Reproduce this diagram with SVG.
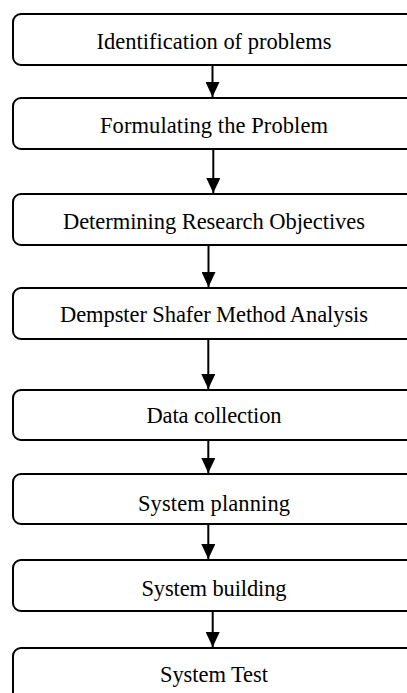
<svg xmlns="http://www.w3.org/2000/svg" width="407" height="693" viewBox="0 0 407 693">
<style>
.box{fill:#fff;stroke:#000;stroke-width:2}
.lbl{font-family:"Liberation Serif","Times New Roman",serif;font-size:22.5px;fill:#000;text-anchor:middle}
.con{stroke:#000;stroke-width:2;fill:none;marker-end:url(#ah)}
</style>
<defs>
<marker id="ah" viewBox="0 0 15 14" refX="15" refY="7" markerWidth="15" markerHeight="14" markerUnits="userSpaceOnUse" orient="auto">
<path d="M0,0 L15,7 L0,14 z" fill="#000"/>
</marker>
</defs>
<rect width="407" height="693" fill="#fff"/>
<g id="connectors">
<line class="con" x1="212.5" y1="65" x2="212.5" y2="97"/>
<line class="con" x1="213.3" y1="149" x2="213.3" y2="193"/>
<line class="con" x1="208.5" y1="245" x2="208.5" y2="287"/>
<line class="con" x1="208.3" y1="339" x2="208.3" y2="389"/>
<line class="con" x1="208.3" y1="440" x2="208.3" y2="473"/>
<line class="con" x1="208.3" y1="524" x2="208.3" y2="559"/>
<line class="con" x1="212.7" y1="611" x2="212.7" y2="647"/>
</g>
<g id="n1"><rect class="box" x="13" y="14" width="403" height="51" rx="8"/><text class="lbl" x="214" y="49" textLength="235">Identification of problems</text></g>
<g id="n2"><rect class="box" x="13" y="98" width="403" height="51" rx="8"/><text class="lbl" x="214" y="133" textLength="228">Formulating the Problem</text></g>
<g id="n3"><rect class="box" x="13" y="194" width="403" height="51" rx="8"/><text class="lbl" x="214" y="229" textLength="302">Determining Research Objectives</text></g>
<g id="n4"><rect class="box" x="13" y="288" width="403" height="51" rx="8"/><text class="lbl" x="214" y="322" textLength="308">Dempster Shafer Method Analysis</text></g>
<g id="n5"><rect class="box" x="13" y="390" width="403" height="50" rx="8"/><text class="lbl" x="214" y="423" textLength="135">Data collection</text></g>
<g id="n6"><rect class="box" x="13" y="474" width="403" height="50" rx="8"/><text class="lbl" x="214" y="511" textLength="152">System planning</text></g>
<g id="n7"><rect class="box" x="13" y="560" width="403" height="51" rx="8"/><text class="lbl" x="214" y="596" textLength="145">System building</text></g>
<g id="n8"><rect class="box" x="13" y="648" width="403" height="60" rx="8"/><text class="lbl" x="214" y="682" textLength="108">System Test</text></g>
</svg>
